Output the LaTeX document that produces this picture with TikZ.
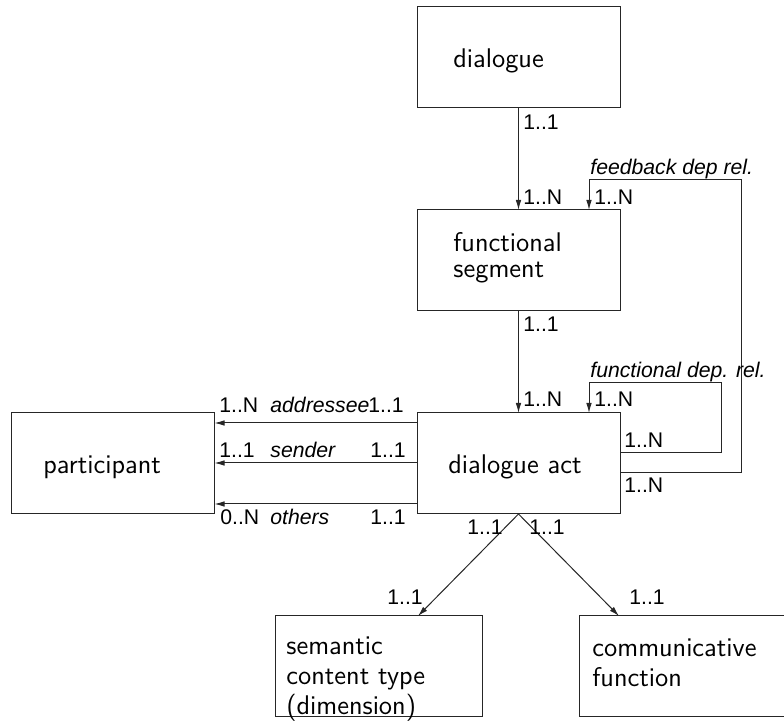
\documentclass[tikz,border=0pt]{standalone}
\usepackage{fontspec}
\newfontfamily\lblfont{Liberation Sans}
\usepackage{tikz}
\usetikzlibrary{arrows.meta}
\usetikzlibrary{calc}
\usetikzlibrary{positioning}
\tikzset{
    boxnode/.style = {rectangle, draw=black!85, line width=0.5pt, minimum width=101.5pt, minimum height=50.5pt, inner sep=0pt, outer sep=0pt},
    boxtext/.style = {anchor=base west, inner sep=0pt, align=left, font=\sffamily\fontsize{13.5}{15}\selectfont},
    card/.style = {anchor=base west, inner sep=0pt, font=\lblfont\fontsize{10.6}{12}\selectfont},
    role/.style = {anchor=base west, inner sep=0pt, font=\lblfont\itshape\fontsize{10.6}{12}\selectfont},
}
\begin{document}
\begin{tikzpicture}[x=0.5pt, y=-0.5pt]
\tikzset{
    rel/.style = {-{Latex[length=5pt,width=2.8pt]}, draw=black!85, line width=0.5pt},
}
\useasboundingbox (0,0) rectangle (784,721);
% boxes
\node[boxnode] at (518.5,57.5) (dlg) {};
\node[boxnode] at (518.5,260.5) (seg) {};
\node[boxnode] at (518.5,463.5) (act) {};
\node[boxnode] at (113,463.5) (part) {};
\node[boxnode, minimum width=103.5pt] at (378.5,666.5) (sem) {};
\node[boxnode, minimum width=103.5pt] at (682.5,666.5) (com) {};
% box texts (multi-line: base is the last line)
\node[boxtext] at (453,68) (dlgtext) {dialogue};
\node[boxtext] at (453,278) (segtext) {functional\\[-1.75pt]segment};
\node[boxtext] at (448,474) (acttext) {dialogue act};
\node[boxtext] at (43,474) (parttext) {participant};
\node[boxtext] at (286,715) (semtext) {semantic\\content type\\(dimension)};
\node[boxtext] at (592,687) (comtext) {communicative\\function};
% connectors
\draw[rel] (dlg) -- (seg);
\draw[rel] (seg) -- (act);
\draw[rel] ($(act.north west)+(0,10)$) -- ($(part.north east)+(0,10)$);
\draw[rel] ($(act.north west)+(0,50)$) -- ($(part.north east)+(0,50)$);
\draw[rel] ($(act.north west)+(0,91)$) -- ($(part.north east)+(0,91)$);
\draw[rel] (act.south) -- ($(sem.north)+(39.5,0)$);
\draw[rel] (act.south) -- ($(com.north)+(-63.5,0)$);
\draw[rel] ($(act.north east)+(0,40)$) -- ++(101,0) |- ($(act.north west)+(172,-30)$) -- ($(act.north west)+(172,0)$);
\draw[rel] ($(act.north east)+(0,60)$) -- ++(121,0) |- ($(seg.north west)+(172,-30)$) -- ($(seg.north west)+(172,0)$);
% multiplicities and roles
\node[card] at (523,130) (m1) {1..1};
\node[card] at (523,205) (m2) {1..N};
\node[role] at (590,175) (fbrel) {feedback dep rel.};
\node[card] at (594,205) (m3) {1..N};
\node[card] at (523,332) (m4) {1..1};
\node[card] at (523,407) (m5) {1..N};
\node[role] at (590,378) (fnrel) {functional dep. rel.};
\node[card] at (594,407) (m6) {1..N};
\node[card] at (624,448) (m7) {1..N};
\node[card] at (624,493) (m8) {1..N};
\node[card] at (219,413) (m9) {1..N};
\node[role] at (270,413) (addr) {addressee};
\node[card] at (368,413) (m10) {1..1};
\node[card] at (219,458) (m11) {1..1};
\node[role] at (270,458) (send) {sender};
\node[card] at (370,458) (m12) {1..1};
\node[card] at (220,525) (m13) {0..N};
\node[role] at (270,525) (oth) {others};
\node[card] at (370,525) (m14) {1..1};
\node[card] at (467,535) (m15) {1..1};
\node[card] at (529,535) (m16) {1..1};
\node[card] at (387,605) (m17) {1..1};
\node[card] at (629,605) (m18) {1..1};

\end{tikzpicture}
\end{document}
